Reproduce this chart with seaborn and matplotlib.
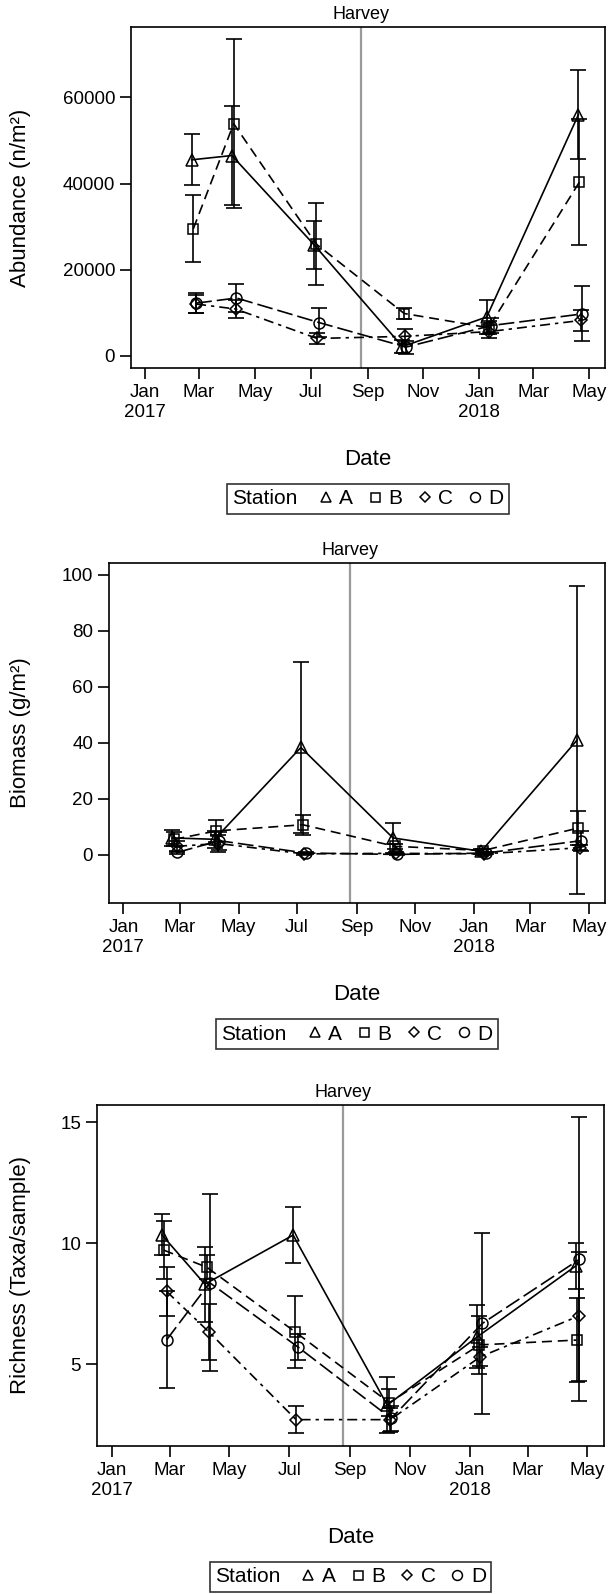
import pandas as pd
import numpy as np
import seaborn as sns
import matplotlib
matplotlib.use("Agg")
import matplotlib.pyplot as plt
import matplotlib.dates as mdates
from matplotlib.lines import Line2D
from matplotlib.ticker import FuncFormatter
from matplotlib.offsetbox import HPacker

# sampling dates per station (stations were visited a few days apart)
stations = ["A", "B", "C", "D"]
dates_A = ["2017-02-21", "2017-04-06", "2017-07-05", "2017-10-09", "2018-01-09", "2018-04-19"]
dates_B = ["2017-02-23", "2017-04-08", "2017-07-07", "2017-10-11", "2018-01-11", "2018-04-20"]
dates_C = ["2017-02-26", "2017-04-10", "2017-07-08", "2017-10-12", "2018-01-12", "2018-04-22"]
dates_D = ["2017-02-26", "2017-04-11", "2017-07-10", "2017-10-13", "2018-01-14", "2018-04-23"]
harvey_date = "2017-08-25"

# abundance (n/m2), mean and error
abund_A = [45500, 46500, 25700, 2100, 9000, 56000]
abund_B = [29500, 53900, 25950, 9800, 6500, 40300]
abund_C = [12000, 10850, 4000, 4500, 5600, 8200]
abund_D = [12200, 13400, 7700, 2000, 7000, 9700]
abund_err_A = [5900, 11500, 5600, 1500, 4000, 10300]
abund_err_B = [7800, 19700, 9600, 1300, 1500, 14700]
abund_err_C = [2000, 2100, 1250, 1700, 1500, 2500]
abund_err_D = [2300, 3300, 3300, 1500, 1700, 6400]

# biomass (g/m2)
bio_A = [6.0, 5.5, 38.3, 6.0, 1.2, 41.0]
bio_B = [5.5, 8.5, 10.7, 3.0, 1.5, 9.5]
bio_C = [3.0, 4.0, 0.3, 0.5, 0.3, 2.5]
bio_D = [0.8, 5.0, 0.6, 0.1, 0.6, 5.0]
bio_err_A = [2.9, 3.0, 30.7, 5.4, 0.8, 55.0]
bio_err_B = [2.5, 4.0, 3.5, 1.0, 0.6, 6.0]
bio_err_C = [2.0, 3.0, 0.3, 0.3, 0.3, 0.8]
bio_err_D = [0.5, 3.2, 0.4, 0.2, 0.3, 3.5]

# richness (taxa/sample)
rich_A = [10.35, 8.3, 10.33, 3.3, 6.13, 9.05]
rich_B = [9.71, 9.0, 6.33, 3.4, 5.79, 5.99]
rich_C = [8.0, 6.33, 2.7, 2.7, 5.3, 6.98]
rich_D = [6.0, 8.36, 5.7, 2.75, 6.68, 9.33]
rich_err_A = [0.85, 1.55, 1.15, 1.15, 1.3, 0.95]
rich_err_B = [1.2, 0.5, 1.5, 0.55, 1.2, 1.72]
rich_err_C = [1.0, 1.15, 0.55, 0.5, 0.4, 2.67]
rich_err_D = [2.0, 3.66, 0.55, 0.5, 3.75, 5.87]

all_dates = [dates_A, dates_B, dates_C, dates_D]

marker_map = {"A": "^", "B": "s", "C": "D", "D": "o"}
size_map = {"A": 8.5, "B": 7.2, "C": 6.0, "D": 7.9}
dash_map = {"A": "", "B": (6.0, 3.5), "C": (6.0, 3.0, 2.0, 3.0), "D": (9.5, 3.0)}


def make_df(means, errs):
    rows = []
    for st, d, m, e in zip(stations, all_dates, means, errs):
        for dd, mm, ee in zip(d, m, e):
            rows.append({"Station": st, "Date": pd.Timestamp(dd), "value": mm, "err": ee})
    return pd.DataFrame(rows)


def month_fmt(x, pos):
    d = mdates.num2date(x)
    if d.month == 1:
        return d.strftime("%b\n%Y")
    return d.strftime("%b")


sns.set_style("ticks")
plt.rcParams["font.family"] = ["Liberation Sans", "DejaVu Sans"]
plt.rcParams["text.color"] = "black"
plt.rcParams["axes.labelcolor"] = "black"

W, H = 610, 1594
fig = plt.figure(figsize=(W / 100, H / 100), dpi=100)

# panel boxes in pixels: left, right, top, bottom
boxes = [(131, 605, 27, 368), (109, 605, 563, 903), (97, 604, 1105, 1446)]


def draw_panel(box, df, ylabel, ylim, yticks):
    l, r, t, b = box
    ax = fig.add_axes([l / W, 1 - b / H, (r - l) / W, (b - t) / H])
    sns.lineplot(data=df, x="Date", y="value", style="Station", style_order=stations,
                 dashes=dash_map, markers=False, color="black", lw=1.2,
                 estimator=None, sort=False, legend=False, ax=ax)
    for st in stations:
        sub = df[df["Station"] == st]
        ax.errorbar(sub["Date"], sub["value"], yerr=sub["err"], fmt="none",
                    ecolor="black", elinewidth=1.2, capsize=5.8, capthick=1.2)
        ax.plot(sub["Date"], sub["value"], ls="none", marker=marker_map[st],
                ms=size_map[st], mfc="none", mec="black", mew=1.1)
    hv = pd.Timestamp(harvey_date)
    ax.axvline(hv, color="#9a9a9a", lw=1.6, zorder=0)
    ax.annotate("Harvey", xy=(hv, 1), xycoords=("data", "axes fraction"),
                xytext=(0, 3), textcoords="offset points", ha="center", va="bottom",
                fontsize=13)
    ax.set_xlim(pd.Timestamp("2016-12-17"), pd.Timestamp("2018-05-18"))
    ax.set_ylim(*ylim)
    ax.set_yticks(yticks)
    ax.xaxis.set_major_locator(mdates.MonthLocator(bymonth=[1, 3, 5, 7, 9, 11]))
    ax.xaxis.set_major_formatter(FuncFormatter(month_fmt))
    ax.tick_params(direction="out", length=8, width=1.2, labelsize=13.5, colors="black")
    for s in ax.spines.values():
        s.set_visible(True)
        s.set_linewidth(1.2)
        s.set_color("black")
    ax.set_ylabel(ylabel, fontsize=16)
    ax.yaxis.set_label_coords((31 - l) / (r - l), 0.5)
    ax.set_xlabel("Date", fontsize=16)
    ax.xaxis.set_label_coords(0.5, -(81) / (b - t))

    # legend under the axis label, "Station" title inline on the left
    handles, labels = [], []
    for st in stations:
        handles.append(Line2D([], [], ls="none", marker=marker_map[st], ms=size_map[st] * 0.9,
                              mfc="none", mec="black", mew=1.1))
        labels.append(st)
    cx = (l + r) / 2 / W
    cy = 1 - (b + 131) / H
    leg = fig.legend(handles, labels, loc="center", bbox_to_anchor=(cx, cy), ncol=4,
                     title="Station", title_fontsize=15,
                     frameon=True, fancybox=False, edgecolor="black", fontsize=15,
                     handlelength=0.7, handletextpad=0.3, columnspacing=0.7,
                     borderpad=0.25, borderaxespad=0)
    leg.get_frame().set_linewidth(1.2)
    try:
        fs = leg._fontsize
        box_h = HPacker(pad=leg.borderpad * fs, sep=1.0 * fs, align="center",
                        children=[leg._legend_title_box, leg._legend_handle_box])
        box_h.set_figure(fig)
        leg._legend_box = box_h
        leg._legend_box.set_offset(leg._findoffset)
    except Exception:
        pass
    return ax


draw_panel(boxes[0], make_df([abund_A, abund_B, abund_C, abund_D],
                             [abund_err_A, abund_err_B, abund_err_C, abund_err_D]),
           "Abundance (n/m²)", (-2860, 76360), [0, 20000, 40000, 60000])
draw_panel(boxes[1], make_df([bio_A, bio_B, bio_C, bio_D],
                             [bio_err_A, bio_err_B, bio_err_C, bio_err_D]),
           "Biomass (g/m²)", (-17.25, 104.2), [0, 20, 40, 60, 80, 100])
draw_panel(boxes[2], make_df([rich_A, rich_B, rich_C, rich_D],
                             [rich_err_A, rich_err_B, rich_err_C, rich_err_D]),
           "Richness (Taxa/sample)", (1.61, 15.71), [5, 10, 15])

fig.savefig("out.png", dpi=100)
